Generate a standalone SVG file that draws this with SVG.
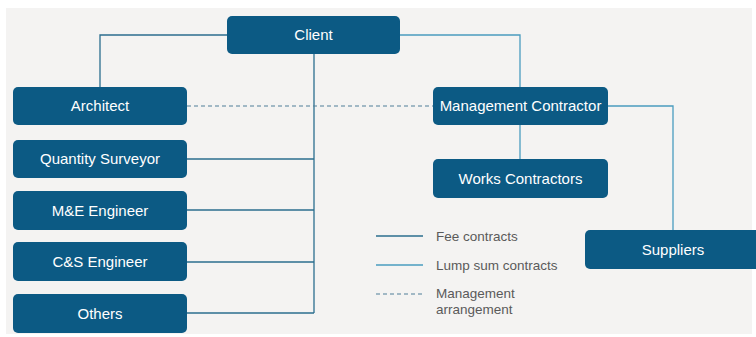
<svg xmlns="http://www.w3.org/2000/svg" width="756" height="337" viewBox="0 0 756 337">
<style>
.box{fill:#0c5a84}
.lbl{font-family:"Liberation Sans",Arial,sans-serif;font-size:15px;fill:#ffffff;text-anchor:middle}
.leg{font-family:"Liberation Sans",Arial,sans-serif;font-size:13.5px;fill:#5a5a5a}
.fee{stroke:#2b6e8e;stroke-width:1.3;fill:none}
.lump{stroke:#4a9cbf;stroke-width:1.3;fill:none}
.mgmt{stroke:#4f7f98;stroke-width:1.2;fill:none;stroke-dasharray:4 3}
</style>
<rect x="0" y="0" width="756" height="337" fill="#ffffff"/>
<rect x="6" y="8" width="746" height="326" fill="#f4f3f2"/>
<g id="connectors">
<polyline class="fee" points="227,35 100,35 100,87"/>
<polyline class="lump" points="400,35 520,35 520,87"/>
<line class="fee" x1="314" y1="54" x2="314" y2="313"/>
<line class="fee" x1="187" y1="159" x2="314" y2="159"/>
<line class="fee" x1="187" y1="210" x2="314" y2="210"/>
<line class="fee" x1="187" y1="262" x2="314" y2="262"/>
<line class="fee" x1="187" y1="313" x2="314" y2="313"/>
<line class="mgmt" x1="187" y1="106" x2="433" y2="106"/>
<line class="lump" x1="520" y1="125" x2="520" y2="159"/>
<polyline class="lump" points="608,106 673,106 673,230"/>
</g>
<g id="client"><rect class="box" x="227" y="16" width="173" height="38" rx="5"/><text class="lbl" x="313.5" y="40">Client</text></g>
<g id="architect"><rect class="box" x="13" y="87" width="174" height="38" rx="5"/><text class="lbl" x="100" y="111">Architect</text></g>
<g id="qs"><rect class="box" x="13" y="140" width="174" height="38" rx="5"/><text class="lbl" x="100" y="164">Quantity Surveyor</text></g>
<g id="me"><rect class="box" x="13" y="191" width="174" height="39" rx="5"/><text class="lbl" x="100" y="215.5">M&amp;E Engineer</text></g>
<g id="cs"><rect class="box" x="13" y="242" width="174" height="39" rx="5"/><text class="lbl" x="100" y="267">C&amp;S Engineer</text></g>
<g id="others"><rect class="box" x="13" y="294" width="174" height="39" rx="5"/><text class="lbl" x="100" y="318.5">Others</text></g>
<g id="mc"><rect class="box" x="433" y="87" width="175" height="38" rx="5"/><text class="lbl" x="520.5" y="111">Management Contractor</text></g>
<g id="works"><rect class="box" x="433" y="159" width="175" height="39" rx="5"/><text class="lbl" x="520.5" y="183.5">Works Contractors</text></g>
<g id="suppliers"><rect class="box" x="585" y="230" width="175" height="39" rx="5"/><text class="lbl" x="673" y="254.5">Suppliers</text></g>
<g id="legend">
<line class="fee" x1="376" y1="236" x2="423" y2="236"/>
<line class="lump" x1="376" y1="265" x2="423" y2="265"/>
<line class="mgmt" x1="376" y1="294" x2="423" y2="294"/>
<text class="leg" x="436" y="241">Fee contracts</text>
<text class="leg" x="436" y="270">Lump sum contracts</text>
<text class="leg" x="436" y="298">Management</text>
<text class="leg" x="436" y="314">arrangement</text>
</g>
</svg>
